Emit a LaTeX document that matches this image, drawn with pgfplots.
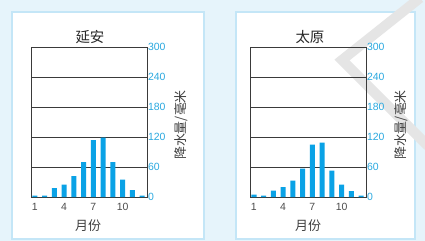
\documentclass[border=0pt]{standalone}
\usepackage{pgfplots}
\pgfplotsset{compat=1.18}
\usepackage{fontspec}
\setmainfont{Liberation Sans}
\newfontfamily\cjk{Noto Sans CJK SC}
\definecolor{barblue}{HTML}{0AA2E6}
\definecolor{ticblue}{HTML}{2AA9E0}
\definecolor{bgblue}{HTML}{E6F4FB}
\definecolor{frameblue}{HTML}{C4E6F7}
\definecolor{gridc}{HTML}{3A3A3A}
\pgfplotstableread{
m p
1 3
2 3
3 18
4 25
5 42
6 70
7 114
8 119
9 70
10 35
11 14
12 3
}\yanan
\pgfplotstableread{
m p
1 5
2 3
3 13
4 20
5 33
6 57
7 105
8 109
9 53
10 25
11 12
12 3
}\taiyuan
\pgfplotsset{
  panel/.style={
    scale only axis, width=116bp, height=150bp,
    anchor=south west,
    xmin=0.6, xmax=12.5, ymin=0, ymax=300,
    ytick={0,60,...,300}, xtick={1,4,7,10},
    yticklabel pos=right,
    major tick length=0pt,
    ymajorgrids, grid style={gridc, line width=0.6pt},
    axis line style={gridc, line width=0.6pt},
    /pgf/number format/assume math mode=true,
    yticklabel style={font=\fontsize{10.5}{10.5}\selectfont, text=ticblue, xshift=-2.5bp},
    xticklabel style={font=\fontsize{10.5}{10.5}\selectfont, text=black!70, yshift=-3bp},
    ybar, bar width=5.2bp,
    clip=false,
  }
}
\begin{document}
\begin{tikzpicture}[x=1bp,y=1bp]
\fill[bgblue] (0,0) rectangle (425,241);
% panels
\fill[white, draw=frameblue, line width=2.5bp] (12,2) rectangle (204,229);
\fill[white, draw=frameblue, line width=2.5bp] (236,2) rectangle (415,229);
\fill[bgblue] (0,0) rectangle (425,1.5);
% watermark
\begin{scope}
\clip (0,0) rectangle (425,241);
\draw[black!10, line width=10bp, line join=miter] (420,243) -- (342,181) -- (428,95);
\end{scope}
\begin{axis}[panel, at={(31bp,44bp)}]
\addplot[fill=barblue, draw=none] table[x=m, y=p] {\yanan};
\end{axis}
\begin{axis}[panel, at={(250bp,44bp)}]
\addplot[fill=barblue, draw=none] table[x=m, y=p] {\taiyuan};
\end{axis}
% titles and labels
\node[font=\cjk\fontsize{14.5}{14.5}\selectfont, text=black!85] at (90,204) {延安};
\node[font=\cjk\fontsize{14.5}{14.5}\selectfont, text=black!85] at (310,204) {太原};
\node[font=\cjk\fontsize{13}{13}\selectfont, text=black!75] at (88,15) {月份};
\node[font=\cjk\fontsize{13}{13}\selectfont, text=black!75] at (308,15) {月份};
\node[font=\cjk\fontsize{13}{13}\selectfont, text=black!75, rotate=90] at (181,116) {降水量/毫米};
\node[font=\cjk\fontsize{13}{13}\selectfont, text=black!75, rotate=90] at (401,116) {降水量/毫米};
\end{tikzpicture}
\end{document}
